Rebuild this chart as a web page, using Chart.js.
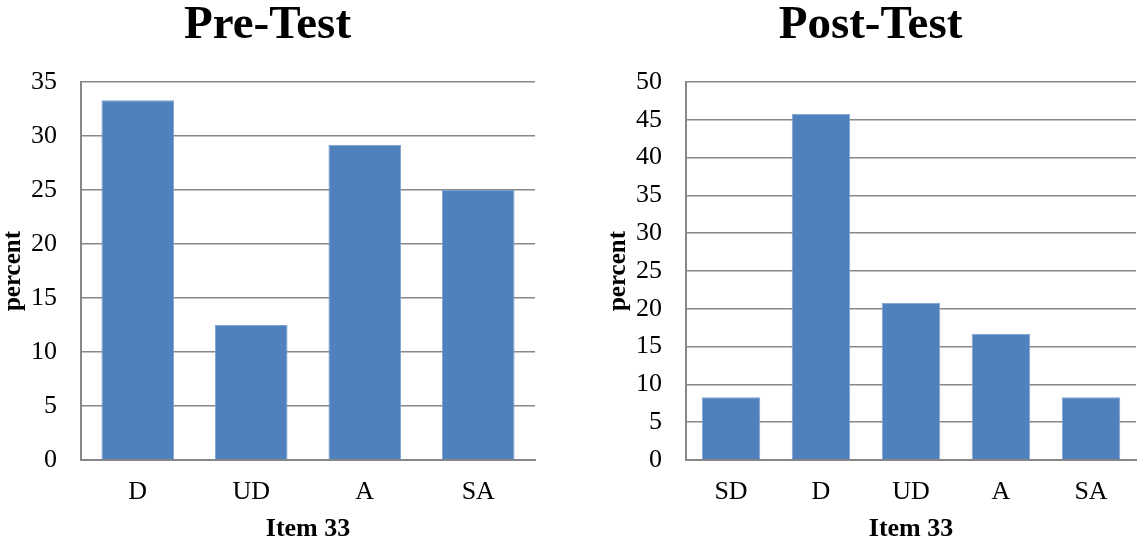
<!DOCTYPE html>
<html>
<head>
<meta charset="utf-8">
<title>Item 33: Pre-Test and Post-Test</title>
<script src="https://cdn.jsdelivr.net/npm/chart.js@4.4.1/dist/chart.umd.min.js"></script>
<style>
  html, body { margin: 0; padding: 0; background: #ffffff; }
  #wrap { position: relative; width: 1139px; height: 544px; overflow: hidden; }
  canvas { position: absolute; top: 0; }
  #pre { left: 0; }
  #post { left: 570px; }
</style>
</head>
<body>
<div id="wrap">
  <canvas id="pre" width="570" height="544"></canvas>
  <canvas id="post" width="569" height="544"></canvas>
</div>
<script>
// Item 33 responses, percent of respondents
const preCategories = ['D', 'UD', 'A', 'SA'];
const preValues = [33.3, 12.5, 29.2, 25.0];
const preMax = 35;

const postCategories = ['SD', 'D', 'UD', 'A', 'SA'];
const postValues = [8.3, 45.8, 20.8, 16.7, 8.3];
const postMax = 50;

const tickStep = 5;
const xAxisTitle = 'Item 33';
const yAxisTitle = 'percent';

const FONT = "'Liberation Serif', 'Times New Roman', serif";
const BAR = '#4f81bd';
const GRID = '#878787';

function makeChart(id, title, categories, values, yMax, barPct, padLeft, padRight) {
  return new Chart(document.getElementById(id), {
    type: 'bar',
    data: {
      labels: categories,
      datasets: [{
        data: values,
        backgroundColor: BAR,
        borderColor: '#7fa3d2',
        borderWidth: 1,
        borderSkipped: 'bottom',
        categoryPercentage: 1,
        barPercentage: barPct
      }]
    },
    options: {
      responsive: false,
      animation: false,
      devicePixelRatio: 1,
      layout: { padding: { left: padLeft, right: padRight, top: 0, bottom: 0 } },
      plugins: {
        legend: { display: false },
        tooltip: { enabled: false },
        title: {
          display: true,
          text: title,
          color: '#000000',
          font: { family: FONT, size: 47, weight: 'bold', lineHeight: 1.0 },
          padding: { top: 2, bottom: 33 }
        }
      },
      scales: {
        x: {
          grid: { display: false, drawTicks: false },
          border: { display: true, color: GRID, width: 2 },
          ticks: { color: '#000000', font: { family: FONT, size: 26 }, padding: 17 },
          title: {
            display: true,
            text: xAxisTitle,
            color: '#000000',
            font: { family: FONT, size: 26, weight: 'bold', lineHeight: 1.0 },
            padding: { top: 10, bottom: 2 }
          },
          afterFit: (s) => { s.height = 84; }
        },
        y: {
          min: 0,
          max: yMax,
          ticks: {
            stepSize: tickStep,
            color: '#000000',
            font: { family: FONT, size: 26 },
            padding: 24
          },
          grid: { color: GRID, lineWidth: 1.5, drawTicks: false },
          border: { display: true, color: GRID, width: 2 },
          title: {
            display: true,
            text: yAxisTitle,
            color: '#000000',
            font: { family: FONT, size: 25, weight: 'bold', lineHeight: 1.0 },
            padding: { top: 1, bottom: 0 }
          },
          afterFit: (s) => { s.width = 81; }
        }
      }
    }
  });
}

makeChart('pre', 'Pre-Test', preCategories, preValues, preMax, 0.64, 0, 35);
makeChart('post', 'Post-Test', postCategories, postValues, postMax, 0.65, 35, 3);
</script>
</body>
</html>
